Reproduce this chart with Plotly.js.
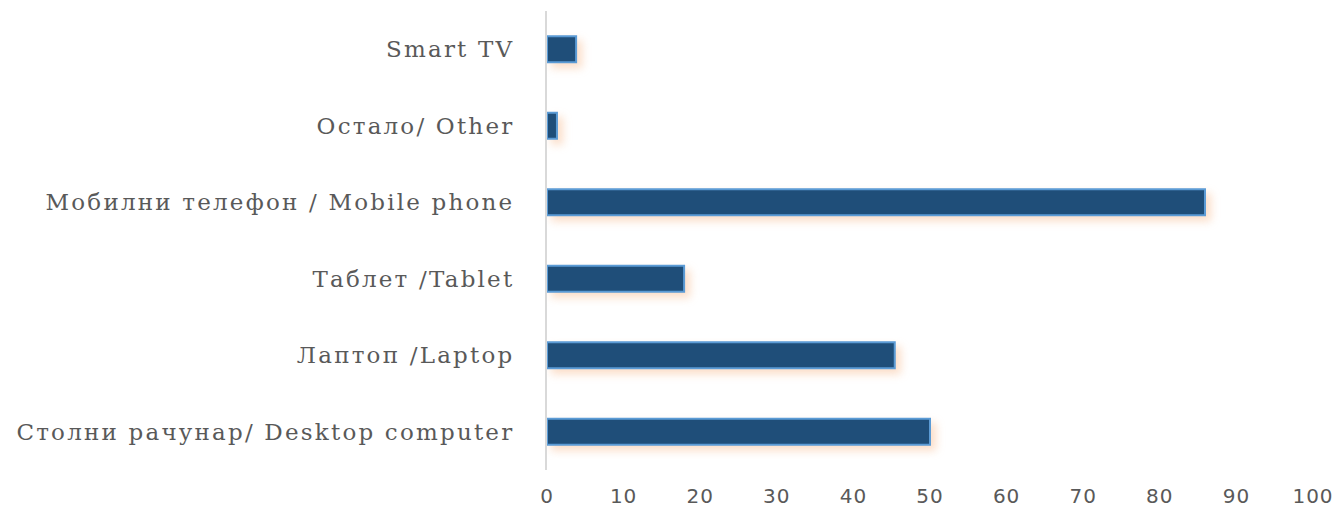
<!DOCTYPE html>
<html>
<head>
<meta charset="utf-8">
<script src="https://cdn.plot.ly/plotly-3.0.1.min.js"></script>
<style>
body{margin:0;background:#fff;}
#chart{width:1335px;height:508px;}
.ytick text{letter-spacing:2.2px;}
.xtick text{letter-spacing:1px;}
.point path{filter:drop-shadow(5px 5px 4px rgba(244,160,100,0.35));}
</style>
</head>
<body>
<div id="chart"></div>
<script>
var categories = [
  "Столни рачунар/ Desktop computer",
  "Лаптоп /Laptop",
  "Таблет /Tablet",
  "Мобилни телефон / Mobile phone",
  "Остало/ Other",
  "Smart TV"
];
var values = [50.0, 45.4, 17.9, 85.9, 1.3, 3.8];
var xTicks = [0,10,20,30,40,50,60,70,80,90,100];

var trace = {
  type: 'bar',
  orientation: 'h',
  y: categories,
  x: values,
  width: 0.34,
  marker: {color: '#1F4E79', line: {color: '#5B9BD5', width: 2}},
  hoverinfo: 'x+y'
};

var layout = {
  width: 1335, height: 508,
  margin: {l: 547, r: 22, t: 11, b: 38},
  paper_bgcolor: '#ffffff', plot_bgcolor: '#ffffff',
  showlegend: false,
  xaxis: {
    range: [0, 100],
    tickvals: xTicks,
    ticktext: xTicks.map(String),
    showgrid: false, zeroline: false, showline: false,
    ticks: '',
    ticklabelstandoff: 12,
    tickfont: {family: 'DejaVu Sans', size: 20, color: '#595959'}
  },
  yaxis: {
    type: 'category',
    showgrid: false, zeroline: false,
    showline: true, linecolor: '#D9D9D9', linewidth: 2,
    ticks: '',
    ticklabelstandoff: 26,
    tickfont: {family: 'DejaVu Serif', size: 23, color: '#595959'}
  }
};

Plotly.newPlot('chart', [trace], layout, {displayModeBar: false, staticPlot: true});
</script>
</body>
</html>
